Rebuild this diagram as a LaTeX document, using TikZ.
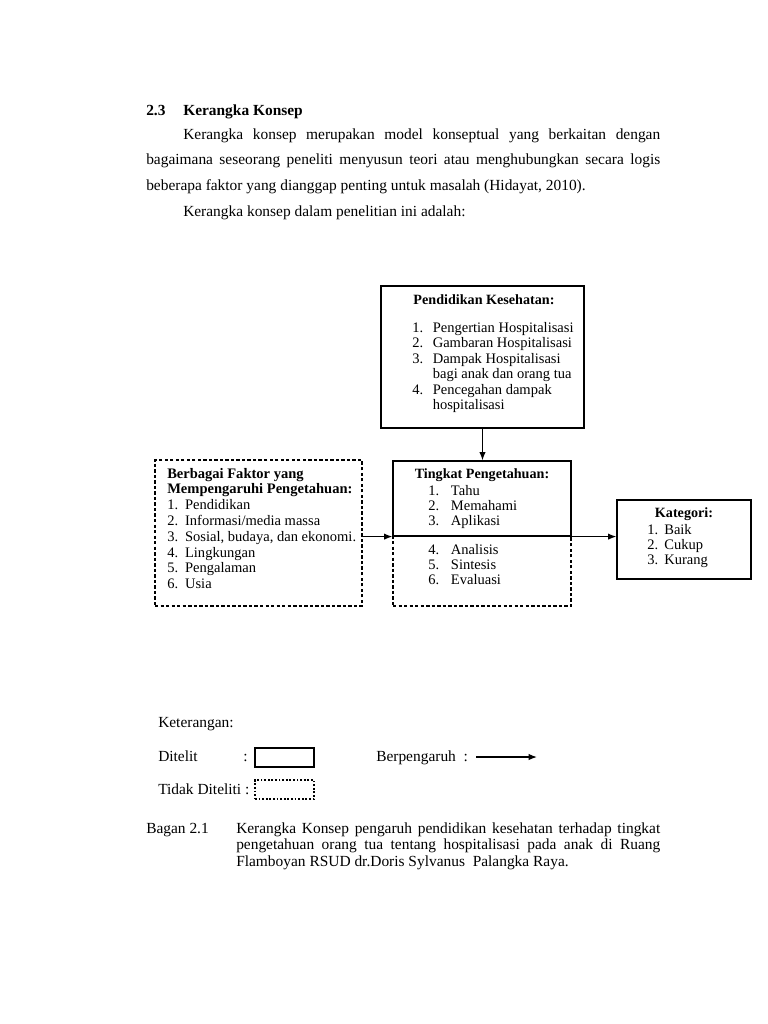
\documentclass[tikz,border=0pt]{standalone}
\usepackage{fontspec}
\setmainfont{Liberation Serif}
\usetikzlibrary{positioning,fit,calc,arrows.meta}
\tikzstyle{solid_box} = [draw=black,
						 line width=0.95pt,
						 inner sep=0pt]
\tikzstyle{dashed_box} = [draw=black,
						  line width=0.95pt,
						  dash pattern=on 2.6pt off 1.7pt,
						  inner sep=0pt]
\tikzstyle{dotted_box} = [draw=black,
						  line width=0.8pt,
						  dash pattern=on 1.4pt off 1.4pt,
						  inner sep=0pt]
\tikzstyle{title_text} = [inner sep=0pt,
						  anchor=base,
						  font=\fontsize{11}{12}\selectfont\bfseries]
\tikzstyle{list_text} = [inner sep=0pt,
						 anchor=base west]
\tikzstyle{page_text} = [inner sep=0pt,
						 anchor=base west,
						 font=\fontsize{12}{14}\selectfont]
\tikzstyle{link} = [-{Latex[length=6.5pt,width=5pt]},
					line width=0.95pt]

\begin{document}
\begin{tikzpicture}[x=0.77801pt,y=-0.77801pt]
    \useasboundingbox (0,0) rectangle (768,1024);

        %%%%%%%%%%%%
        % HEADING  %
        %%%%%%%%%%%%
        \node[page_text, font=\fontsize{12}{14}\selectfont\bfseries] (num) at (146,115) {2.3};
        \node[page_text, font=\fontsize{12}{14}\selectfont\bfseries] (head) at (183,115) {Kerangka Konsep};
        \node[page_text, text width=399.9pt, align=justify, font=\fontsize{12}{20.2}\selectfont] (par) at (146,139)
            {\hspace*{28.8pt}Kerangka konsep merupakan model konseptual yang berkaitan dengan\linebreak
             bagaimana seseorang peneliti menyusun teori atau menghubungkan secara logis\linebreak
             beberapa faktor yang dianggap penting untuk masalah (Hidayat, 2010).};
        \node[page_text] (intro) at (183,216) {Kerangka konsep dalam penelitian ini adalah:};

        %%%%%%%%%%%%
        % DIAGRAM  %
        %%%%%%%%%%%%
        \node[solid_box, fit={(381,286) (584,428)}] (pk) {};
        \node[title_text] (pk_title) at (484,304) {Pendidikan Kesehatan:};
        \node[list_text, font=\fontsize{11.3}{12.1}\selectfont] (pk_list) at (412,332)
            {\begin{tabular}[t]{@{}l@{\hspace{7.5pt}}l@{}}
             1. & Pengertian Hospitalisasi\\
             2. & Gambaran Hospitalisasi\\
             3. & Dampak Hospitalisasi\\
                & bagi anak dan orang tua\\
             4. & Pencegahan dampak\\
                & hospitalisasi
             \end{tabular}};

        \node[dashed_box, fit={(155,460) (362,606)}] (lf) {};
        \node[list_text, font=\fontsize{11.3}{12.3}\selectfont] (lf_list) at (167,478)
            {\begin{tabular}[t]{@{}l@{\hspace{5.4pt}}l@{}}
             \multicolumn{2}{@{}l@{}}{\bfseries Berbagai Faktor yang}\\
             \multicolumn{2}{@{}l@{}}{\bfseries Mempengaruhi Pengetahuan:}\\
             1. & Pendidikan\\
             2. & Informasi/media massa\\
             3. & Sosial, budaya, dan ekonomi.\\
             4. & Lingkungan\\
             5. & Pengalaman\\
             6. & Usia
             \end{tabular}};

        \node[solid_box, fit={(393,461) (571,536)}] (tp) {};
        \node[dashed_box, fit={(393,536) (571,606)}] (tpd) {};
        \node[title_text] (tp_title) at (482,478) {Tingkat Pengetahuan:};
        \node[list_text, font=\fontsize{11.3}{11.8}\selectfont] (tp_list) at (428,495)
            {\begin{tabular}[t]{@{}l@{\hspace{9.2pt}}l@{}}
             1. & Tahu\\
             2. & Memahami\\
             3. & Aplikasi
             \end{tabular}};
        \node[list_text, font=\fontsize{11.3}{11.8}\selectfont] (tpd_list) at (428,554)
            {\begin{tabular}[t]{@{}l@{\hspace{9.2pt}}l@{}}
             4. & Analisis\\
             5. & Sintesis\\
             6. & Evaluasi
             \end{tabular}};

        \node[solid_box, fit={(617,500) (751,579)}] (kt) {};
        \node[title_text] (kt_title) at (684,517) {Kategori:};
        \node[list_text, font=\fontsize{11.3}{12}\selectfont] (kt_list) at (647,534)
            {\begin{tabular}[t]{@{}l@{\hspace{4.8pt}}l@{}}
             1. & Baik\\
             2. & Cukup\\
             3. & Kurang
             \end{tabular}};

        \draw[link] (pk.south) -- (pk.south |- tp.north);
        \draw[link] (lf.east |- tp.south west) -- (tp.south west);
        \draw[link] (tp.south east) -- (kt.west |- tp.south east);

        %%%%%%%%%%%%
        % LEGEND   %
        %%%%%%%%%%%%
        \node[page_text] (ket) at (158,727) {Keterangan:};
        \node[page_text] (dit) at (158,761) {Ditelit};
        \node[page_text] (dit_c) at (243,761) {:};
        \node[solid_box, fit={(255,748) (314,767)}] (dit_box) {};
        \node[page_text] (tdk) at (158,794) {Tidak Diteliti :};
        \node[dotted_box, fit={(255,780) (314,799)}] (tdk_box) {};
        \node[page_text] (ber) at (376,761) {Berpengaruh\ \ :};
        \coordinate (ber_a) at (476,757);
        \coordinate (ber_b) at (537,757);
        \draw[link] (ber_a) -- (ber_b);

        %%%%%%%%%%%%
        % CAPTION  %
        %%%%%%%%%%%%
        \node[page_text] (bag) at (146,833) {Bagan 2.1};
        \node[page_text, text width=329.9pt, align=justify, font=\fontsize{12}{13.2}\selectfont] (cap) at (236,833)
            {Kerangka Konsep pengaruh pendidikan kesehatan terhadap tingkat\linebreak
             pengetahuan orang tua tentang hospitalisasi pada anak di Ruang\linebreak
             Flamboyan RSUD dr.Doris Sylvanus\ \ Palangka Raya.};

\end{tikzpicture}
\end{document}
